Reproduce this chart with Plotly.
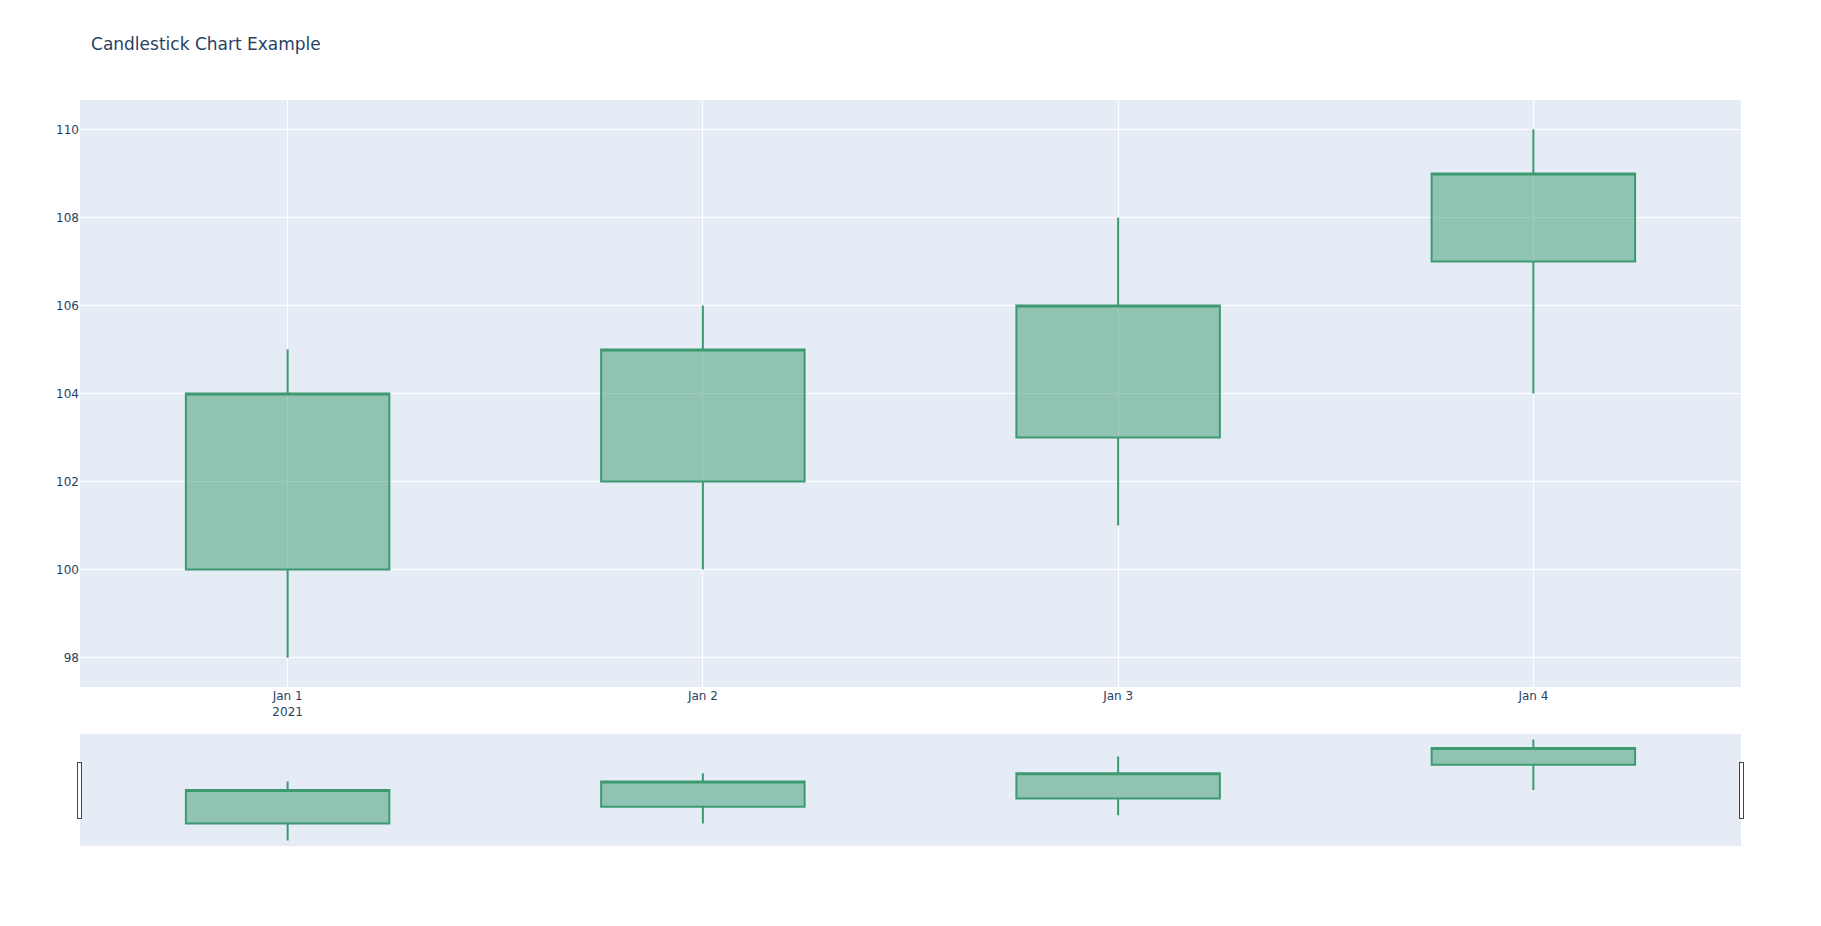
import plotly.graph_objects as go

dates = ["2021-01-01", "2021-01-02", "2021-01-03", "2021-01-04"]
open_prices = [100, 102, 103, 107]
high_prices = [105, 106, 108, 110]
low_prices = [98, 100, 101, 104]
close_prices = [104, 105, 106, 109]

fig = go.Figure(data=[go.Candlestick(
    x=dates,
    open=open_prices,
    high=high_prices,
    low=low_prices,
    close=close_prices,
)])

# page has an 8px body margin, so shrink the figure and margins to keep
# the plot area where the reference has it
fig.update_layout(
    title=dict(text="Candlestick Chart Example", x=0.046, xref="container",
               y=1 - 36 / 900, yref="container", yanchor="middle"),
    font=dict(family="Verdana, DejaVu Sans, sans-serif"),
    width=1805,
    height=900,
    margin=dict(l=72, r=72, t=92, b=63),
)

fig.write_html("out.html")
